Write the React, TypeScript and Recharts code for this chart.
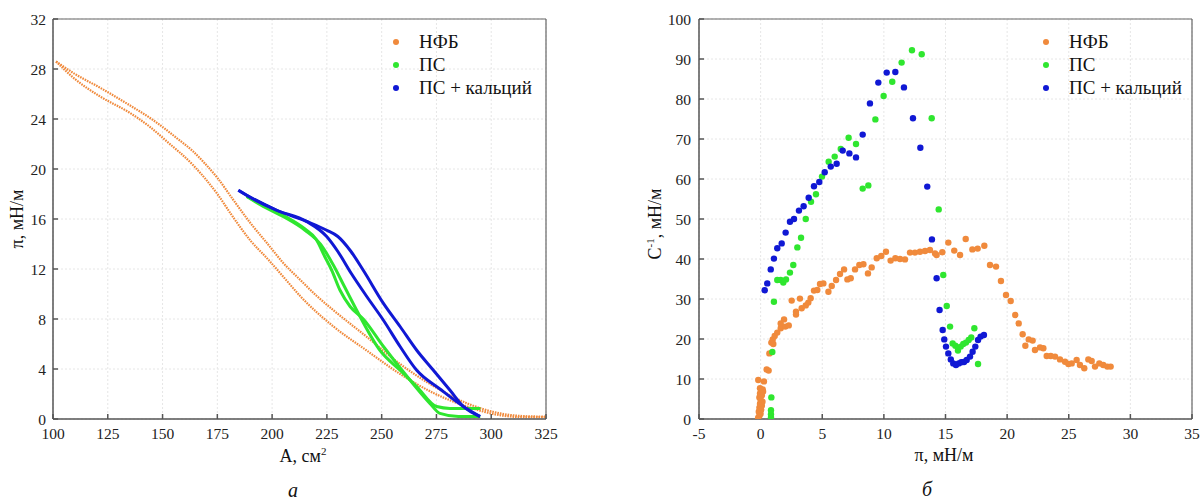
import React from 'react';
import { LineChart, Line, ScatterChart, Scatter, XAxis, YAxis, CartesianGrid, ReferenceLine } from 'recharts';

const ORANGE = '#f08a3c';
const GREEN = '#2fe62f';
const BLUE = '#1018d4';
const FONT = '"Liberation Serif", "Times New Roman", serif';

// panel a: isotherms, [A, pi]
const areaTicks = [100, 125, 150, 175, 200, 225, 250, 275, 300, 325];
const piTicks = [0, 4, 8, 12, 16, 20, 24, 28, 32];

const nfbUp: [number, number][] = [
  [101.4, 28.6], [110, 27.6], [121.5, 26.5], [135, 25.1], [145, 24.0], [157, 22.4], [164, 21.4], [169, 20.5],
  [175, 19.3], [182, 17.6], [190, 15.7], [198, 14.0], [205, 12.5], [213, 11.1], [220, 9.9], [228, 8.7],
  [243, 6.6], [258, 4.45], [274, 2.6], [289, 1.25], [304, 0.45], [313, 0.25], [322, 0.2], [325, 0.2],
];
const nfbDown: [number, number][] = [
  [101.4, 28.6], [110, 27.2], [121.5, 25.8], [135, 24.5], [144, 23.4], [152, 22.2], [164, 20.3], [175, 18.0],
  [182, 16.2], [190, 14.3], [198, 12.8], [205, 11.4], [213, 9.8], [228, 7.4], [243, 5.5], [258, 3.65],
  [274, 2.05], [289, 1.0], [304, 0.3], [315, 0.15], [325, 0.15],
];
const psUp: [number, number][] = [
  [188.4, 17.8], [195, 17.2], [205, 16.3], [215, 15.2], [220, 14.4], [224, 13.0], [227.2, 11.9], [231, 10.3],
  [235.6, 9.0], [241.6, 8.0], [250.8, 5.8], [263, 3.1], [272, 1.25], [276.6, 0.45], [285, 0.2], [295, 0.2],
];
const psDown: [number, number][] = [
  [188.4, 17.8], [195, 17.1], [205, 16.2], [215, 15.1], [222, 14.0], [228, 12.3], [233, 10.6], [238.6, 8.7],
  [249.2, 5.5], [258.4, 3.9], [266, 2.6], [275.1, 1.0], [281.2, 0.85], [295, 0.85],
];
const psCaUp: [number, number][] = [
  [184.6, 18.3], [188.4, 17.9], [202.1, 16.7], [215.8, 15.8], [224.9, 15.1], [230, 14.6], [236, 13.4],
  [241.6, 11.9], [250.8, 9.25], [258.4, 7.4], [266, 5.5], [273.6, 3.9], [281.2, 2.3], [287.3, 1.0], [294.9, 0.2],
];
const psCaDown: [number, number][] = [
  [184.6, 18.3], [188.4, 17.9], [202.1, 16.7], [215.8, 15.8], [224.9, 14.6], [230, 13.4], [236.3, 11.6],
  [243.2, 9.8], [250.8, 7.9], [258.4, 5.8], [266, 3.9], [276.6, 2.4], [287.3, 1.0], [294.9, 0.2],
];

// panel б: compressibility modulus, [pi, C^-1]
const piTicks2 = [-5, 0, 5, 10, 15, 20, 25, 30, 35];
const modTicks = [0, 10, 20, 30, 40, 50, 60, 70, 80, 90, 100];

const nfbMod: [number, number][] = [
  [-0.2, 0.3], [-0.1, 0.8], [0.0, 1.3], [-0.15, 1.8], [0.05, 2.3], [-0.1, 2.8], [0.1, 3.3], [-0.05, 3.8],
  [0.15, 4.3], [0.0, 4.8], [-0.1, 5.4], [0.1, 5.9], [-0.05, 6.4], [0.2, 6.9], [-0.05, 7.7], [0.17, 7.4],
  [0.27, 9.4], [-0.19, 9.75], [0.49, 12.4], [0.65, 12.1], [0.71, 16.4], [0.87, 19.1], [0.98, 19.9], [1.03, 18.75],
  [1.14, 20.75], [1.35, 21.6], [1.63, 22.7], [1.63, 23.9], [1.9, 24.9], [2.0, 23.1], [2.28, 23.4], [2.52, 29.6],
  [2.87, 26.8], [2.87, 26.1], [3.19, 30.1], [3.33, 27.7], [3.66, 28.4], [3.87, 29.1], [4.06, 30.2], [4.33, 32.1],
  [4.6, 32.25], [4.82, 33.75], [5.09, 33.9], [5.5, 31.8], [5.77, 33.25], [6.12, 34.75], [6.44, 36.25], [6.77, 37.4],
  [7.04, 34.9], [7.31, 35.2], [7.66, 37.4], [8.01, 38.5], [8.34, 38.7], [8.71, 36.4], [9.01, 37.9], [9.42, 40.2],
  [9.79, 40.75], [10.17, 41.8], [10.55, 39.6], [10.93, 40.2], [11.31, 40.0], [11.71, 39.9], [12.12, 41.6],
  [12.52, 41.6], [12.93, 41.8], [13.34, 42.0], [13.74, 42.25], [14.15, 41.4], [14.28, 41.0], [14.74, 41.7],
  [15.23, 44.1], [15.71, 42.1], [16.18, 41.0], [16.64, 45.0], [17.18, 42.4], [17.61, 42.6], [18.15, 43.3],
  [18.61, 38.5], [19.1, 38.1], [19.5, 34.5], [19.91, 31.0], [20.29, 29.5], [20.66, 26.0], [20.94, 23.9],
  [21.26, 21.2], [21.48, 18.3], [21.75, 19.9], [22.07, 19.6], [22.26, 17.25], [22.67, 17.9], [22.94, 17.7],
  [23.21, 15.75], [23.54, 15.75], [23.89, 15.6], [24.29, 14.9], [24.7, 14.3], [24.97, 13.75], [25.24, 13.9],
  [25.64, 14.75], [25.91, 13.5], [26.26, 12.7], [26.59, 14.9], [26.86, 14.5], [27.13, 13.1], [27.48, 13.9],
  [27.8, 13.5], [28.13, 13.1], [28.4, 13.1],
];
const psMod: [number, number][] = [
  [0.84, 0.4], [0.84, 1.2], [0.84, 2.2], [0.87, 5.4], [0.95, 16.75], [1.08, 29.3], [1.35, 34.75], [1.63, 34.75],
  [1.84, 34.1], [2.06, 34.9], [2.38, 36.6], [2.65, 38.5], [2.98, 42.9], [3.28, 45.3], [3.66, 50.0], [4.09, 54.3],
  [4.49, 56.2], [4.98, 60.6], [5.52, 64.3], [6.01, 65.6], [6.5, 67.5], [7.14, 70.3], [7.74, 68.75], [8.28, 57.6],
  [8.74, 58.4], [9.31, 74.9], [9.98, 80.75], [10.68, 84.3], [11.44, 89.1], [12.28, 92.2], [13.07, 91.2],
  [13.88, 75.2], [14.45, 52.4], [14.82, 36.0], [15.1, 28.25], [15.37, 23.1], [15.58, 18.9], [15.8, 18.3],
  [16.01, 17.1], [16.23, 18.1], [16.44, 18.75], [16.66, 19.1], [16.88, 19.75], [17.09, 20.4], [17.34, 22.7],
  [17.64, 13.75],
];
const psCaMod: [number, number][] = [
  [0.33, 32.2], [0.54, 33.9], [0.82, 37.4], [1.08, 40.1], [1.35, 42.7], [1.71, 43.9], [2.03, 46.6], [2.38, 49.3],
  [2.71, 50.0], [3.11, 52.1], [3.49, 53.2], [3.9, 55.3], [4.33, 58.2], [4.76, 59.25], [5.2, 61.7], [5.69, 63.1],
  [6.17, 63.8], [6.66, 67.1], [7.2, 66.4], [7.74, 65.4], [8.28, 71.1], [8.87, 78.9], [9.55, 84.1], [10.23, 86.6],
  [10.93, 86.75], [11.63, 82.9], [12.36, 75.2], [12.96, 67.8], [13.52, 58.1], [13.9, 44.9], [14.28, 35.2],
  [14.52, 27.25], [14.77, 22.25], [14.9, 19.9], [15.04, 18.1], [15.23, 16.4], [15.43, 14.9], [15.63, 13.9],
  [15.85, 13.5], [16.07, 13.9], [16.28, 14.2], [16.5, 14.25], [16.72, 14.75], [16.99, 15.6], [17.2, 16.8],
  [17.42, 18.1], [17.64, 19.75], [17.85, 20.6], [18.12, 21.0],
];

const legendItems = [
  { name: 'НФБ', color: ORANGE },
  { name: 'ПС', color: GREEN },
  { name: 'ПС + кальций', color: BLUE },
];

const pts = (arr: [number, number][]) => arr.map(([x, y]) => ({ x, y }));

const tickStyle = { fontSize: 15.5, fill: '#222', fontFamily: FONT };
const axisLine = { stroke: '#555', strokeWidth: 1.5 };

const dot = (color: string) => (p: any) => <circle cx={p.cx} cy={p.cy} r={3.2} fill={color} />;

const Legend: React.FC<{ left: number }> = ({ left }) => (
  <div style={{ position: 'absolute', left, top: 30, fontFamily: FONT, fontSize: 19, color: '#111' }}>
    {legendItems.map((it) => (
      <div key={it.name} style={{ display: 'flex', alignItems: 'center', height: 23.3 }}>
        <span style={{ width: 6, height: 6, borderRadius: 3, background: it.color, marginRight: 20 }} />
        <span>{it.name}</span>
      </div>
    ))}
  </div>
);

const abs = (left: number, top: number, extra: React.CSSProperties = {}): React.CSSProperties => ({
  position: 'absolute', left, top, transform: 'translate(-50%,-50%)', whiteSpace: 'nowrap',
  fontFamily: FONT, fontSize: 18, color: '#111', ...extra,
});

export default function App() {
  return (
    <div style={{ position: 'absolute', left: 0, top: 0, width: 1200, height: 499, background: '#fff', overflow: 'hidden' }}>
      <div style={{ position: 'absolute', left: 0, top: 0 }}>
        <LineChart width={560} height={460} margin={{ top: 19, right: 14, bottom: 11, left: 13 }}>
          <CartesianGrid stroke="#e6e6e6" strokeDasharray="2 2" />
          <XAxis type="number" dataKey="x" domain={[100, 325]} ticks={areaTicks} allowDataOverflow
            height={30} tickSize={-5} tickMargin={14} tick={tickStyle} axisLine={axisLine} tickLine={axisLine} />
          <YAxis type="number" dataKey="y" domain={[0, 32]} ticks={piTicks} allowDataOverflow
            width={40} tickSize={-5} tickMargin={12} tick={tickStyle} axisLine={axisLine} tickLine={axisLine} />
          <ReferenceLine y={32} stroke="#666" strokeWidth={1.2} />
          <ReferenceLine x={325} stroke="#666" strokeWidth={1.2} />
          <Line type="monotone" data={pts(nfbUp)} dataKey="y" stroke={ORANGE} strokeWidth={2.2} strokeDasharray="1.6 1" dot={false} isAnimationActive={false} />
          <Line type="monotone" data={pts(nfbDown)} dataKey="y" stroke={ORANGE} strokeWidth={2.2} strokeDasharray="1.6 1" dot={false} isAnimationActive={false} />
          <Line type="monotone" data={pts(psUp)} dataKey="y" stroke={GREEN} strokeWidth={3} dot={false} isAnimationActive={false} />
          <Line type="monotone" data={pts(psDown)} dataKey="y" stroke={GREEN} strokeWidth={3} dot={false} isAnimationActive={false} />
          <Line type="monotone" data={pts(psCaUp)} dataKey="y" stroke={BLUE} strokeWidth={3} dot={false} isAnimationActive={false} />
          <Line type="monotone" data={pts(psCaDown)} dataKey="y" stroke={BLUE} strokeWidth={3} dot={false} isAnimationActive={false} />
        </LineChart>
      </div>
      <div style={{ position: 'absolute', left: 620, top: 0 }}>
        <ScatterChart width={580} height={460} margin={{ top: 19, right: 8, bottom: 11, left: 39 }}>
          <CartesianGrid stroke="#e6e6e6" strokeDasharray="2 2" />
          <XAxis type="number" dataKey="x" domain={[-5, 35]} ticks={piTicks2} allowDataOverflow
            height={30} tickSize={-5} tickMargin={14} tick={tickStyle} axisLine={axisLine} tickLine={axisLine} />
          <YAxis type="number" dataKey="y" domain={[0, 100]} ticks={modTicks} allowDataOverflow
            width={40} tickSize={-5} tickMargin={13} tick={tickStyle} axisLine={axisLine} tickLine={axisLine} />
          <ReferenceLine y={100} stroke="#666" strokeWidth={1.2} />
          <ReferenceLine x={35} stroke="#666" strokeWidth={1.2} />
          <Scatter data={pts(nfbMod)} fill={ORANGE} shape={dot(ORANGE)} isAnimationActive={false} />
          <Scatter data={pts(psMod)} fill={GREEN} shape={dot(GREEN)} isAnimationActive={false} />
          <Scatter data={pts(psCaMod)} fill={BLUE} shape={dot(BLUE)} isAnimationActive={false} />
        </ScatterChart>
      </div>

      <Legend left={393} />
      <Legend left={1043} />

      <div style={abs(17, 219, { transform: 'translate(-50%,-50%) rotate(-90deg)' })}>π, мН/м</div>
      <div style={abs(655, 224, { transform: 'translate(-50%,-50%) rotate(-90deg)' })}>
        С<sup style={{ fontSize: 11 }}>-1</sup>, мН/м
      </div>
      <div style={abs(303, 456)}>А, см<sup style={{ fontSize: 11 }}>2</sup></div>
      <div style={abs(944, 455)}>π, мН/м</div>
      <div style={abs(293, 490, { fontStyle: 'italic', fontSize: 20 })}>а</div>
      <div style={abs(927, 489, { fontStyle: 'italic', fontSize: 20 })}>б</div>
    </div>
  );
}
